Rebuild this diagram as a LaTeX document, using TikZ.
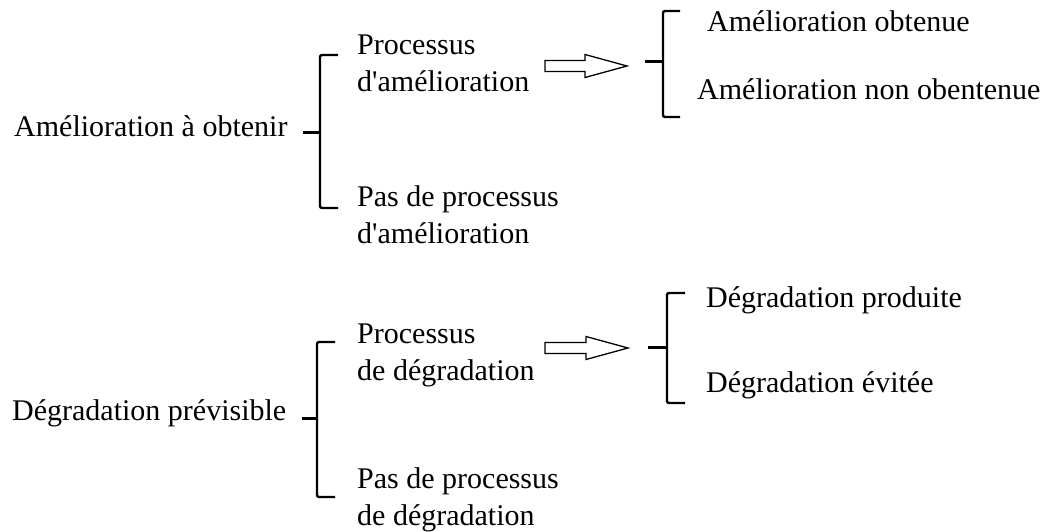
\documentclass[tikz,border=0pt]{standalone}
\usepackage{fontspec}
\setmainfont{Liberation Serif}
\usetikzlibrary{calc}
\tikzstyle{label} = [inner sep=0pt, anchor=base west, align=left,
    font=\fontsize{30}{37}\selectfont]
\tikzstyle{brace} = [line width=2.4pt, rounded corners=2pt]
\tikzstyle{stub} = [line width=3pt]
\tikzstyle{bigarrow} = [line width=1.3pt, fill=white, line join=miter]

% open block arrow between two coordinates on one level
\newcommand{\blockarrow}[2]{%
  \draw[bigarrow] ($(#1)+(0,-5.5)$) -- ($(#2)+(-42,-5.5)$) -- ($(#2)+(-42,-11.5)$)
    -- (#2) -- ($(#2)+(-42,11.5)$) -- ($(#2)+(-42,5.5)$) -- ($(#1)+(0,5.5)$) -- cycle;}

\begin{document}
\begin{tikzpicture}[x=1pt, y=-1pt]
    \useasboundingbox (0,0) rectangle (1042,532);

    % ameliorations (two-line labels sit on their last baseline)
    \node[label] (ameliorer) at (14,137) {Amélioration à obtenir};
    \node[label] (procA) at (357,92) {Processus\\d\textquotesingle amélioration};
    \node[label] (sansA) at (357,243) {Pas de processus\\d\textquotesingle amélioration};
    \node[label] (obtenue) at (707,32) {Amélioration obtenue};
    \node[label] (nonobtenue) at (697,100) {Amélioration non obentenue};

    \draw[brace] (338,55) -- (320,55) -- (320,208) -- (338,208);
    \draw[stub] (303,133) -- (320,133);
    \coordinate (a1s) at (545,66);
    \coordinate (a1e) at (627,66);
    \blockarrow{a1s}{a1e}
    \draw[brace] (680,11) -- (663,11) -- (663,117) -- (680,117);
    \draw[stub] (645,62) -- (663,62);

    % degradations
    \node[label] (degrader) at (12,420) {Dégradation prévisible};
    \node[label] (procD) at (357,380) {Processus\\de dégradation};
    \node[label] (sansD) at (357,525) {Pas de processus\\de dégradation};
    \node[label] (produite) at (706,307) {Dégradation produite};
    \node[label] (evitee) at (706,392) {Dégradation évitée};

    \draw[brace] (335,342) -- (317,342) -- (317,497) -- (335,497);
    \draw[stub] (302,418) -- (317,418);
    \coordinate (a2s) at (545,348);
    \coordinate (a2e) at (628,348);
    \blockarrow{a2s}{a2e}
    \draw[brace] (685,293) -- (667,293) -- (667,403) -- (685,403);
    \draw[stub] (648,347) -- (667,347);
\end{tikzpicture}
\end{document}
